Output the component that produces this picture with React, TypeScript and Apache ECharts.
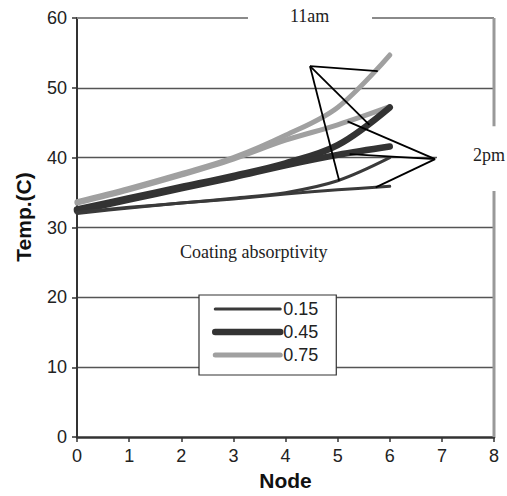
import React, { useEffect, useRef } from "react";
import * as echarts from "echarts";

const nodes = [0, 1, 2, 3, 4, 5, 6];
const am015 = [32.2, 32.9, 33.5, 34.2, 35.0, 36.7, 40.0];
const pm015 = [32.0, 32.8, 33.5, 34.1, 34.8, 35.4, 35.9];
const am045 = [32.6, 34.2, 35.8, 37.4, 39.2, 41.8, 47.2];
const pm045 = [32.4, 34.0, 35.6, 37.2, 38.9, 40.4, 41.6];
const am075 = [33.7, 35.6, 37.7, 40.0, 43.2, 47.2, 54.7];
const pm075 = [33.5, 35.4, 37.5, 39.8, 42.5, 44.7, 47.3];

const legendNames = ["0.15", "0.45", "0.75"];
const xTicks = [0, 1, 2, 3, 4, 5, 6, 7, 8];
const yTicks = [0, 10, 20, 30, 40, 50, 60];

// callout pointer lines (apex -> target, in data units)
const callout11am = [
  [[4.47, 53.1], [5.77, 52.4]],
  [[4.47, 53.1], [5.61, 44.7]],
  [[4.47, 53.1], [5.03, 36.7]],
];
const callout2pm = [
  [[6.87, 39.8], [5.19, 45.2]],
  [[6.87, 39.8], [5.23, 40.5]],
  [[6.87, 39.8], [5.73, 35.75]],
];
// frame segments (top and right borders with gaps for labels)
const frameTop = [
  [[0, 60], [3.28, 60]],
  [[5.66, 60], [8, 60]],
];
const frameRight = [
  [[8, 60], [8, 44.5]],
  [[8, 35.4], [8, 0]],
];

const SANS = "'Liberation Sans', Arial, sans-serif";
const SERIF = "'Liberation Serif', 'Times New Roman', serif";

const pairs = (ys: number[]) => nodes.map((x, i) => [x, ys[i]]);

export default function App() {
  const ref = useRef<HTMLDivElement>(null);
  useEffect(() => {
    document.body.style.margin = "0";
    if (!ref.current) return;
    const chart = echarts.init(ref.current, null, { renderer: "svg" });

    const curve = (name: string, ys: number[], color: string, width: number) => ({
      type: "line",
      name,
      data: pairs(ys),
      smooth: 0.35,
      symbol: "none",
      silent: true,
      lineStyle: { color, width, cap: "round", join: "round" },
      itemStyle: { color },
    });
    const segs = (name: string, list: number[][][], color: string, width: number) =>
      list.map((seg, i) => ({
        type: "line",
        name: name + i,
        data: seg,
        symbol: "none",
        silent: true,
        clip: false,
        lineStyle: { color, width, cap: "butt" },
        itemStyle: { color },
        z: 5,
      }));

    chart.setOption({
      animation: false,
      grid: { left: 77, right: 13, top: 18, bottom: 55 },
      xAxis: {
        type: "value",
        min: 0,
        max: 8,
        interval: 1,
        name: "Node",
        nameLocation: "middle",
        nameGap: 32,
        nameTextStyle: { fontFamily: SANS, fontSize: 21, fontWeight: "bold", color: "#111" },
        axisLine: { show: true, lineStyle: { color: "#333", width: 2.5 } },
        axisTick: { show: true, length: 5, lineStyle: { color: "#333", width: 1.5 } },
        axisLabel: {
          margin: 10,
          fontFamily: SANS,
          fontSize: 18,
          color: "#222",
          formatter: (v: number) => (xTicks.includes(v) ? String(v) : ""),
        },
        splitLine: { show: false },
      },
      yAxis: {
        type: "value",
        min: 0,
        max: 60,
        interval: 10,
        axisLine: { show: true, lineStyle: { color: "#333", width: 2 } },
        axisTick: { show: true, length: 5, lineStyle: { color: "#333", width: 1.5 } },
        axisLabel: {
          margin: 10,
          fontFamily: SANS,
          fontSize: 18,
          color: "#222",
          formatter: (v: number) => (yTicks.includes(v) ? String(v) : ""),
        },
        splitLine: { show: true, showMaxLine: false, showMinLine: false, lineStyle: { color: "#555", width: 1.3 } },
      },
      legend: {
        data: legendNames,
        orient: "vertical",
        left: 199,
        top: 295,
        padding: [5, 18, 11, 13],
        itemWidth: 65,
        itemHeight: 18,
        itemGap: 5,
        itemStyle: { opacity: 0 },
        lineStyle: { width: "inherit", cap: "round" },
        textStyle: { fontFamily: SANS, fontSize: 18, color: "#222", padding: [0, 0, 0, -2] },
        backgroundColor: "#fff",
        borderColor: "#333",
        borderWidth: 1.2,
        selectedMode: false,
      },
      graphic: [
        {
          type: "rect",
          z: 50,
          shape: { x: 437, y: 129, width: 70, height: 62 },
          style: { fill: "#fff" },
        },
        {
          type: "text",
          z: 51,
          left: 290,
          top: 7,
          style: { text: "11am", font: `18px ${SERIF}`, fill: "#222" },
        },
        {
          type: "text",
          z: 51,
          left: 473,
          top: 146,
          style: { text: "2pm", font: `18px ${SERIF}`, fill: "#222" },
        },
        {
          type: "text",
          left: 180,
          top: 243,
          style: { text: "Coating absorptivity", font: `18px ${SERIF}`, fill: "#222" },
        },
        {
          type: "text",
          x: 23,
          y: 217,
          rotation: Math.PI / 2,
          style: {
            text: "Temp.(C)",
            font: `bold 21px ${SANS}`,
            fill: "#111",
            align: "center",
            verticalAlign: "middle",
          },
        },
      ],
      series: [
        ...segs("frameTop", frameTop, "#8a8a8a", 2),
        ...segs("frameRight", frameRight, "#999", 3),
        curve("0.75", am075, "#a0a0a0", 5),
        curve("0.75pm", pm075, "#a0a0a0", 5),
        curve("0.45", am045, "#333", 6.5),
        curve("0.45pm", pm045, "#333", 6.5),
        curve("0.15", am015, "#3a3a3a", 3),
        curve("0.15pm", pm015, "#3a3a3a", 3),
        ...segs("c11", callout11am, "#000", 1.8),
        ...segs("c2", callout2pm, "#000", 1.8),
      ],
    });
    return () => chart.dispose();
  }, []);
  return <div ref={ref} style={{ width: 507, height: 496 }} />;
}
